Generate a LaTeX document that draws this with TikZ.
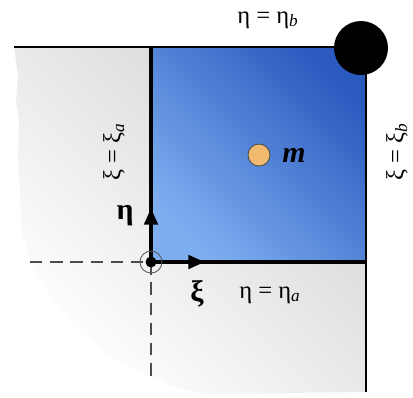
\documentclass[tikz,border=0pt]{standalone}
\usepackage{fontspec}
\setmainfont{Liberation Serif}
\usetikzlibrary{arrows.meta}

\definecolor{blueLight}{HTML}{7EAEF0}
\definecolor{blueDark}{HTML}{2A5ABE}
\definecolor{massFill}{HTML}{F2BA6E}

\tikzset{
    edgeThick/.style={line width=2.8pt},
    edgeThin/.style={line width=0.9pt},
    axisTip/.style={edgeThick, -{Triangle[length=9.5pt, width=7.5pt]}},
    guide/.style={dashed, dash pattern=on 7pt off 4.5pt, gray!60!black, line width=0.7pt},
    lbl/.style={font=\fontsize{14}{16}\selectfont, inner sep=1pt},
    axisLbl/.style={font=\fontsize{17}{19}\selectfont\bfseries, inner sep=1pt}
}

\begin{document}
\begin{tikzpicture}[x=0.02cm, y=-0.02cm]

    \useasboundingbox (0,0) rectangle (413,397);

    % --- 1. Corner points ---
    \coordinate (O) at (151,262);
    \coordinate (A) at (151,47);
    \coordinate (B) at (366,47);
    \coordinate (C) at (366,262);
    \coordinate (topW) at (14,47);
    \coordinate (rightS) at (366,392);

    % --- 2. Grey body (torn edge) ---
    \shade [top color=gray!34, bottom color=white, shading angle=-45]
        (14,47) -- (366,47) -- (366,392) -- (205,394)
        .. controls (120,378) and (60,325) .. (30,262)
        -- (26,246) -- (21,228) -- (20,190) -- (18,160) -- (19,120)
        -- (16,100) -- (18,75) -- (14,47) -- cycle;

    % --- 3. Blue element ---
    \shade [top color=blueDark, bottom color=blueLight, shading angle=-45]
        (O) rectangle (B);

    % --- 4. Boundary lines ---
    \draw [edgeThin] (topW) -- (B);
    \draw [edgeThin, line width=1.1pt] (B) -- (rightS);
    \draw [edgeThick] (A) -- (O) -- (C);

    % --- 5. Dashed guides ---
    \coordinate (dashW) at (30,262);
    \coordinate (dashS) at (151,377);
    \draw [guide] (dashW) -- (O) -- (dashS);

    % --- 6. Local axes ---
    \coordinate (etaTip) at (151,208);
    \coordinate (xiTip) at (205,262);
    \draw [axisTip] (O) -- (etaTip);
    \draw [axisTip] (O) -- (xiTip);
    \draw [gray!70!black, line width=0.5pt] (O) circle (11);
    \fill [black] (O) circle (5.5);

    % --- 7. Corner node and mass ---
    \fill [black] (B) ++(-5,1) circle (27);
    \draw [fill=massFill, draw=black!70, line width=0.5pt] (259,155) circle (11);
    \node [lbl, font=\fontsize{17}{19}\selectfont\bfseries\itshape] (mLbl) at (294,155) {m};

    % --- 8. Labels ---
    \node [lbl] (etaB) at (268,20) {η = η\textsubscript{\textit{b}}};
    \node [lbl] (etaA) at (270,295) {η = η\textsubscript{\textit{a}}};
    \node [lbl, rotate=90] (xiA) at (114,152) {ξ = ξ\textsubscript{\textit{a}}};
    \node [lbl, rotate=90] (xiB) at (397,152) {ξ = ξ\textsubscript{\textit{b}}};
    \node [axisLbl] (etaLbl) at (125,216) {η};
    \node [axisLbl] (xiLbl) at (197,294) {ξ};

\end{tikzpicture}
\end{document}
